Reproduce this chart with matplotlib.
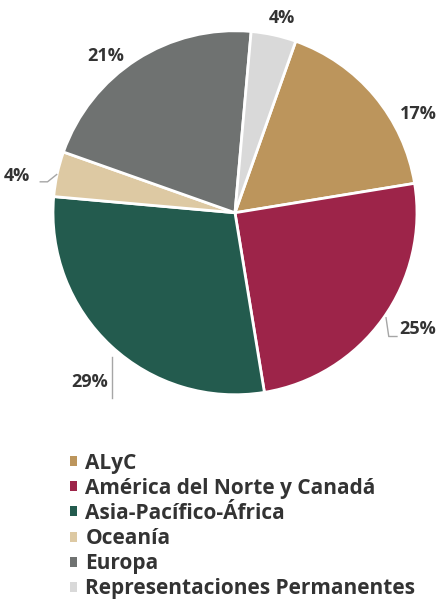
import numpy as np
import matplotlib.pyplot as plt

# Distribución por región
regiones = ["ALyC", "América del Norte y Canadá", "Asia-Pacífico-África",
            "Oceanía", "Europa", "Representaciones Permanentes"]
porcentajes = [17, 25, 29, 4, 21, 4]
colores = ["#BC955C", "#9D2449", "#235B4E", "#DDC9A3", "#6F7271", "#D9D9D9"]

# posición de cada etiqueta (coordenadas del pie, radio = 1)
pos_etiquetas = [(1.005, 0.54), (1.005, -0.64), (-0.80, -0.93),
                 (-1.20, 0.20), (-0.71, 0.86), (0.26, 1.07)]

texto = "#333333"
plt.rcParams['font.family'] = ['Open Sans', 'DejaVu Sans']

fig = plt.figure(figsize=(4.38, 6.01), dpi=100)
ax = fig.add_axes([0.121, 0.343, 0.831, 0.606])

wedges, _ = ax.pie(porcentajes, colors=colores, startangle=70.5, counterclock=False,
                   radius=1, wedgeprops=dict(edgecolor="white", linewidth=2))
ax.set_xlim(-1, 1)
ax.set_ylim(-1, 1)
ax.set_aspect("equal")

for p, (x, y) in zip(porcentajes, pos_etiquetas):
    ax.text(x, y, f"{p}%", ha="center", va="center", fontsize=13,
            fontweight="bold", color=texto)

# líneas guía
gris = "#A6A6A6"
ax.plot([-1.07, -1.03, -0.98], [0.17, 0.17, 0.21], color=gris, lw=1, clip_on=False)
ax.plot([-0.676, -0.676], [-0.79, -1.02], color=gris, lw=1, clip_on=False)
ax.plot([0.83, 0.845, 0.89], [-0.577, -0.68, -0.68], color=gris, lw=1, clip_on=False)

leg = fig.legend(wedges, regiones, loc="upper left", bbox_to_anchor=(0.159, 0.247),
                 frameon=False, handlelength=0.35, handleheight=0.35,
                 handletextpad=0.4, labelspacing=0.2, borderaxespad=0,
                 borderpad=0, prop=dict(size=15, weight="bold"))
for t in leg.get_texts():
    t.set_color(texto)
for h in leg.legend_handles:
    h.set_edgecolor("none")

fig.savefig("out.png", dpi=100)
